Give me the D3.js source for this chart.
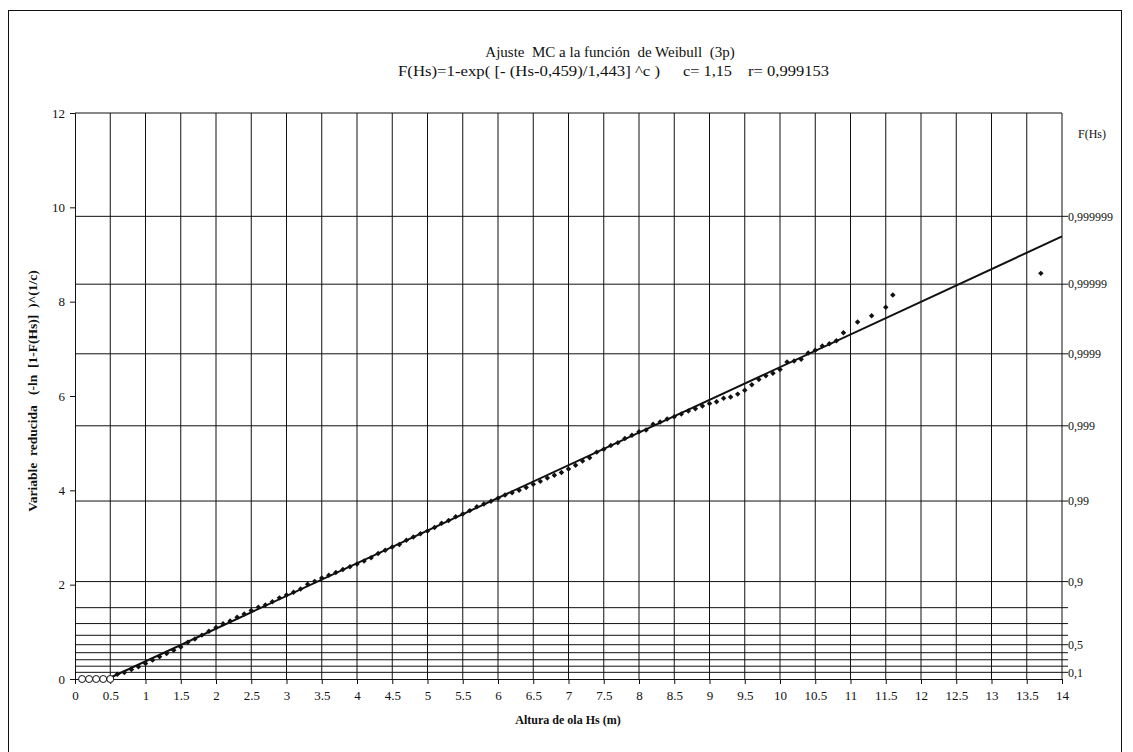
<!DOCTYPE html>
<html>
<head>
<meta charset="utf-8">
<script src="https://cdn.jsdelivr.net/npm/d3@7"></script>
<style>
  html, body { margin: 0; padding: 0; background: #fff; }
  svg { display: block; font-family: "Liberation Serif", "DejaVu Serif", serif; }
</style>
</head>
<body>
<svg id="chart" width="1133" height="752"></svg>
<script>
// Weibull (3 parameter) least-squares fit of significant wave height
const titleMain = "Ajuste  MC a la función  de Weibull  (3p)";
const titleFormula = [
  { text: "F(Hs)=1-exp( [- (Hs-0,459)/1,443] ^c )", at: 398, len: 262 },
  { text: "c= 1,15", at: 683, len: 49 },
  { text: "r= 0,999153", at: 748, len: 81 }
];
const fitLoc = 0.459;
const fitScale = 1.443;
const shapeC = 1.15;

// Wave heights below the threshold (open circles)
const censoredHs = [0.1, 0.2, 0.3, 0.4, 0.5];

// Observed wave heights (m) and their reduced variable
const obsHs = [
  0.6, 0.7, 0.8, 0.9, 1.0, 1.1, 1.2, 1.3, 1.4, 1.5, 1.6, 1.7, 1.8, 1.9, 2.0,
  2.1, 2.2, 2.3, 2.4, 2.5, 2.6, 2.7, 2.8, 2.9, 3.0, 3.1, 3.2, 3.3, 3.4, 3.5,
  3.6, 3.7, 3.8, 3.9, 4.0, 4.1, 4.2, 4.3, 4.4, 4.5, 4.6, 4.7, 4.8, 4.9, 5.0,
  5.1, 5.2, 5.3, 5.4, 5.5, 5.6, 5.7, 5.8, 5.9, 6.0, 6.1, 6.2, 6.3, 6.4, 6.5,
  6.6, 6.7, 6.8, 6.9, 7.0, 7.1, 7.2, 7.3, 7.4, 7.5, 7.6, 7.7, 7.8, 7.9, 8.0,
  8.1, 8.2, 8.3, 8.4, 8.5, 8.6, 8.7, 8.8, 8.9, 9.0, 9.1, 9.2, 9.3, 9.4, 9.5,
  9.6, 9.7, 9.8, 9.9, 10.0, 10.1, 10.2, 10.3, 10.4, 10.5, 10.6, 10.7, 10.8,
  10.9, 11.1, 11.3, 11.5, 11.6, 13.7
];
const obsY = [
  0.10, 0.14, 0.20, 0.26, 0.33, 0.40, 0.47, 0.54, 0.61, 0.68, 0.78, 0.85, 0.93, 1.01, 1.09,
  1.17, 1.23, 1.31, 1.38, 1.45, 1.52, 1.57, 1.64, 1.72, 1.78, 1.84, 1.91, 2.01, 2.07, 2.14,
  2.20, 2.26, 2.32, 2.38, 2.44, 2.50, 2.57, 2.66, 2.73, 2.80, 2.85, 2.94, 3.01, 3.08, 3.14,
  3.21, 3.30, 3.36, 3.44, 3.50, 3.57, 3.65, 3.71, 3.77, 3.83, 3.90, 3.95, 4.00, 4.06, 4.13,
  4.19, 4.26, 4.32, 4.38, 4.45, 4.53, 4.62, 4.69, 4.81, 4.87, 4.95, 5.01, 5.10, 5.17, 5.24,
  5.28, 5.40, 5.45, 5.51, 5.56, 5.62, 5.68, 5.73, 5.79, 5.84, 5.88, 5.95, 5.98, 6.04, 6.12,
  6.24, 6.35, 6.43, 6.48, 6.56, 6.72, 6.74, 6.78, 6.91, 6.97, 7.06, 7.11, 7.17,
  7.34, 7.57, 7.70, 7.88, 8.14, 8.60
];

// Probability levels shown as horizontal lines; labelled ones on the right
const probLevels = [0.1, 0.2, 0.3, 0.4, 0.5, 0.6, 0.7, 0.8, 0.9, 0.99, 0.999, 0.9999, 0.99999, 0.999999];
const probLabels = [
  { p: 0.1, text: "0,1" }, { p: 0.5, text: "0,5" }, { p: 0.9, text: "0,9" },
  { p: 0.99, text: "0,99" }, { p: 0.999, text: "0,999" }, { p: 0.9999, text: "0,9999" },
  { p: 0.99999, text: "0,99999" }, { p: 0.999999, text: "0,999999" }
];
const xTicks = d3.range(0, 14.0001, 0.5);
const yTicks = [0, 2, 4, 6, 8, 10, 12];

const svg = d3.select("#chart");
const plot = { left: 75, right: 1062, top: 113, bottom: 679 };

const x = d3.scaleLinear().domain([0, 14]).range([plot.left, plot.right]);
const y = d3.scaleLinear().domain([0, 12]).range([plot.bottom, plot.top]);
const reduced = p => Math.pow(-Math.log(1 - p), 1 / shapeC);

const ink = "#111";

// outer frame
svg.append("rect")
  .attr("x", 8.5).attr("y", 10.5).attr("width", 1113).attr("height", 760)
  .attr("fill", "none").attr("stroke", ink).attr("stroke-width", 1);

// title
svg.append("text")
  .attr("x", 610).attr("y", 57)
  .attr("text-anchor", "middle").attr("font-size", 15).attr("fill", ink)
  .style("white-space", "pre")
  .text(titleMain);
svg.append("g").selectAll("text").data(titleFormula).join("text")
  .attr("x", d => d.at).attr("y", 76)
  .attr("font-size", 15.5).attr("fill", ink)
  .attr("textLength", d => d.len).attr("lengthAdjust", "spacingAndGlyphs")
  .text(d => d.text);

const grid = svg.append("g").attr("stroke", ink).attr("stroke-width", 1).attr("fill", "none");

// vertical grid every 0.5 m
grid.selectAll("line.v").data(xTicks.filter(d => d > 0)).join("line")
  .attr("class", "v")
  .attr("x1", d => x(d)).attr("x2", d => x(d))
  .attr("y1", plot.top).attr("y2", plot.bottom);

// horizontal probability lines, extending past the right frame
grid.selectAll("line.h").data(probLevels).join("line")
  .attr("class", "h")
  .attr("x1", plot.left).attr("x2", plot.right + 6)
  .attr("y1", d => y(reduced(d))).attr("y2", d => y(reduced(d)));

// top border
grid.append("line")
  .attr("x1", plot.left).attr("x2", plot.right)
  .attr("y1", plot.top).attr("y2", plot.top);

// axes
const xAxis = d3.axisBottom(x).tickValues(xTicks).tickSize(5).tickPadding(4)
  .tickFormat(d => d3.format("")(+d.toFixed(1)));
const gx = svg.append("g").attr("transform", `translate(0,${plot.bottom})`).call(xAxis);
const yAxis = d3.axisLeft(y).tickValues(yTicks).tickSize(5).tickPadding(5);
const gy = svg.append("g").attr("transform", `translate(${plot.left},0)`).call(yAxis);
[gx, gy].forEach(g => {
  g.select(".domain").attr("stroke", ink);
  g.selectAll(".tick line").attr("stroke", ink);
  g.selectAll(".tick text").attr("font-family", "Liberation Serif, serif")
    .attr("font-size", 13).attr("fill", ink);
});
gx.selectAll(".tick text").attr("dy", "0.9em");

// right-hand probability labels
svg.append("text").attr("x", 1078).attr("y", 138)
  .attr("font-size", 12).attr("fill", ink).text("F(Hs)");
svg.append("g").selectAll("text").data(probLabels).join("text")
  .attr("x", plot.right + 6).attr("y", d => y(reduced(d.p)))
  .attr("dy", "0.35em").attr("font-size", 12).attr("fill", ink)
  .text(d => d.text);

// axis titles
svg.append("text")
  .attr("transform", "translate(37,391) rotate(-90)")
  .attr("text-anchor", "middle").attr("font-size", 13.5).attr("font-weight", "bold")
  .attr("fill", ink).style("white-space", "pre")
  .text("Variable  reducida   (-ln  [1-F(Hs)]  )^(1/c)");
svg.append("text")
  .attr("x", 568).attr("y", 724)
  .attr("text-anchor", "middle").attr("font-size", 12).attr("font-weight", "bold")
  .attr("fill", ink).text("Altura de ola Hs (m)");

// fitted line: reduced variable = (Hs - loc) / scale
const fitHs = [fitLoc, 14];
svg.append("path")
  .datum(fitHs)
  .attr("fill", "none").attr("stroke", ink).attr("stroke-width", 2)
  .attr("d", d3.line().x(d => x(d)).y(d => y((d - fitLoc) / fitScale)));

// observations as small filled diamonds
const obs = obsHs.map((h, i) => ({ h, v: obsY[i] }));
svg.append("g").selectAll("path").data(obs).join("path")
  .attr("transform", d => `translate(${x(d.h)},${y(d.v)}) rotate(45)`)
  .attr("d", d3.symbol(d3.symbolSquare, 15))
  .attr("fill", ink);

// censored values drawn on the axis
svg.append("g").selectAll("circle").data(censoredHs).join("circle")
  .attr("cx", d => x(d)).attr("cy", y(0)).attr("r", 3.5)
  .attr("fill", "#fff").attr("stroke", ink).attr("stroke-width", 1);
</script>
</body>
</html>
